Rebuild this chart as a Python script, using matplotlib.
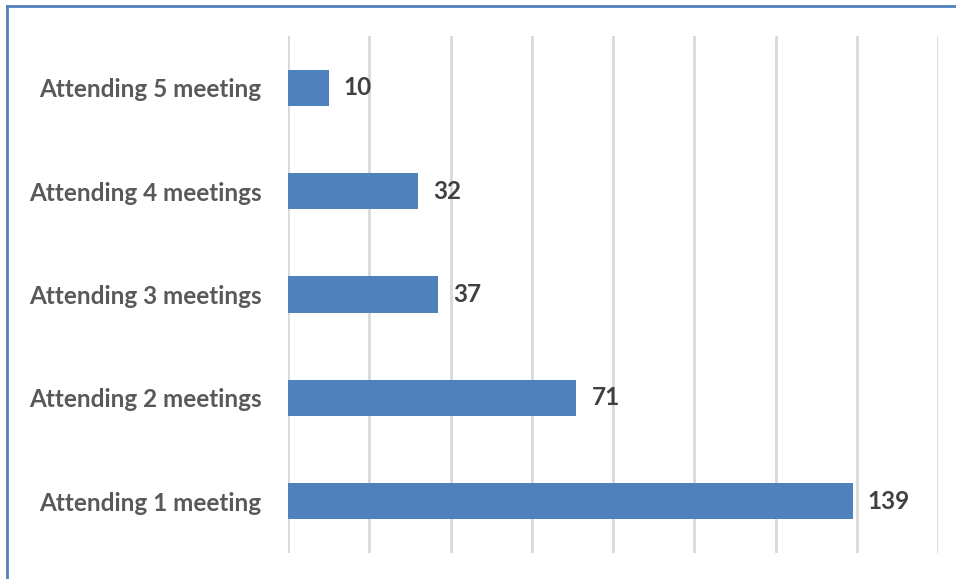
import matplotlib.pyplot as plt
from matplotlib.lines import Line2D

categories = ['Attending 1 meeting', 'Attending 2 meetings', 'Attending 3 meetings',
              'Attending 4 meetings', 'Attending 5 meeting']
values = [139, 71, 37, 32, 10]
x_ticks = [0, 20, 40, 60, 80, 100, 120, 140, 160]

plt.rcParams['font.family'] = ['Lato', 'DejaVu Sans']

fig = plt.figure(figsize=(9.56, 5.79), dpi=100)
ax = fig.add_axes([288 / 956, 1 - 553 / 579, (938 - 288) / 956, (553 - 36) / 579])

bars = ax.barh(range(len(values)), values, height=0.35, color='#4f81bd', zorder=2)
for i, v in enumerate(values):
    ax.text(v + 3.7, i, str(v), va='center', ha='left', fontsize=17.5,
            fontweight='bold', color='#404040')

ax.set_xlim(0, 160)
ax.set_ylim(-0.5, len(values) - 0.5)
ax.set_xticks(x_ticks)
ax.set_xticklabels([])
ax.set_yticks(range(len(categories)))
ax.set_yticklabels(categories, fontsize=17.5, fontweight='bold', color='#595959')
ax.tick_params(axis='both', length=0)
ax.tick_params(axis='y', pad=19)
ax.grid(axis='x', color='#d9d9d9', linewidth=2, zorder=0)
for s in ax.spines.values():
    s.set_visible(False)

# chart frame (only left and top edges are visible in the crop)
fig.add_artist(Line2D([7 / 956, 7 / 956], [0, 1 - 6 / 579], transform=fig.transFigure,
                      color='#4f81bd', linewidth=2))
fig.add_artist(Line2D([7 / 956, 1], [1 - 6 / 579, 1 - 6 / 579], transform=fig.transFigure,
                      color='#4f81bd', linewidth=2))

fig.savefig('out.png', dpi=100)
